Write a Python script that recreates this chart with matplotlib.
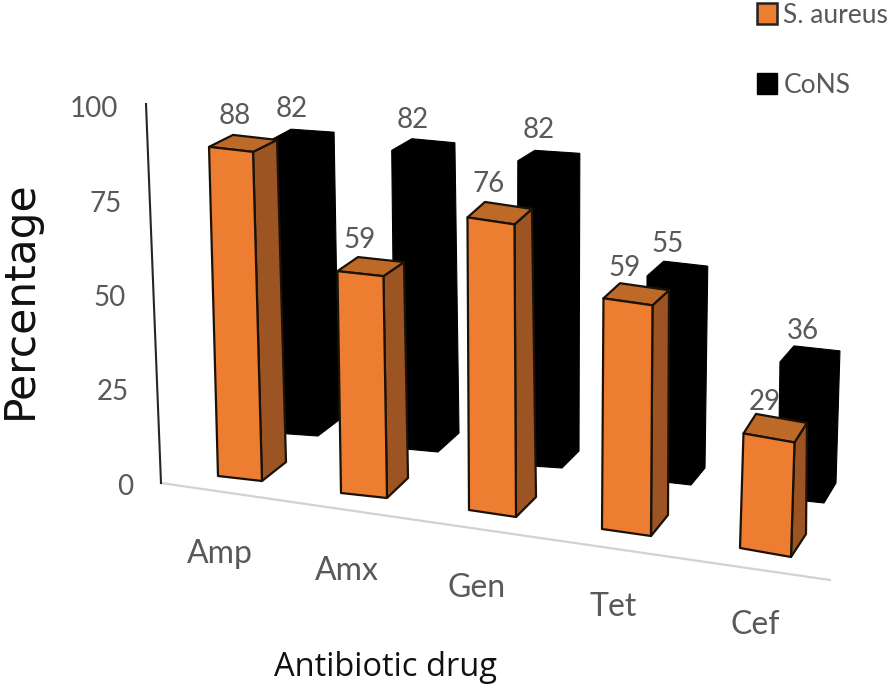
import matplotlib
matplotlib.use("Agg")
import matplotlib.pyplot as plt
from matplotlib.patches import Patch, Polygon
import numpy as np

# ---- data ----
categories = ["Amp", "Amx", "Gen", "Tet", "Cef"]
s_aureus = [88, 59, 76, 59, 29]
cons = [82, 82, 82, 55, 36]
y_ticks = [0, 25, 50, 75, 100]

# ---- oblique projection of the pseudo-3D scene (pixels) ----
# front-left base, front-right base, depth vector, rise per 100 units at front and at back
o_fl = [(218, 476), (341, 493), (469, 510), (602, 529), (740, 548)]
o_fr = [(262, 481), (387, 498), (516, 517), (651, 536), (791, 557)]
o_depth = [(24, -19), (21, -20), (20, -20), (17, -21), (15, -23)]
o_rise_f = [(-10.2, -374), (-6, -376), (-2, -385), (2.5, -391), (12, -395)]
o_rise_b = [(-10.2, -366), (-6.8, -366), (-5.3, -379), (1.7, -381), (3.4, -383)]

k_fl = [(275, 433), (395, 448), (517, 465), (647, 480), (778, 498)]
k_fr = [(318, 436), (438, 452), (562, 468), (691, 485), (824, 503)]
k_depth = [(21, -16), (21, -19), (17, -17), (14, -17), (12, -20)]
k_rise_f = [(-4, -358), (-4, -363), (1, -371), (0, -371), (5.5, -378)]
k_rise_b = [(-6, -351), (-5, -354), (1, -363), (5, -367), (11, -367)]

label_off_o = [(2, -19), (2, -17), (4, -18), (5, -15), (9, -12)]
label_off_k = [(1, -20), (1, -19), (4, -20), (4, -17), (9, -15)]

cat_label_xy = [(220, 554), (347, 571), (477, 588), (613, 607), (755, 625)]

ORANGE, TOP, SIDE = "#ED7D31", "#BD6A29", "#9C5522"
GREY = "#595959"
FONT = "Lato"

fig = plt.figure(figsize=(8.94, 6.89), dpi=100)
ax = fig.add_axes([0, 0, 1, 1])
ax.set_xlim(0, 894)
ax.set_ylim(689, 0)
ax.axis("off")


def corners(v, fl, fr, d, rf, rb):
    fl, fr, d, rf, rb = map(np.array, (fl, fr, d, rf, rb))
    t = v / 100.0
    return dict(flb=fl, frb=fr, rb=fr + d,
                flt=fl + rf * t, frt=fr + rf * t,
                blt=fl + d + rb * t, brt=fr + d + rb * t)


# axis lines
axis_bottom = np.array([161, 483])
axis_top = np.array([146, 104])
floor_end = np.array([830, 580])
ax.plot(*zip(axis_bottom, floor_end), color="#D2D2D2", lw=1.6, zorder=1)
ax.plot(*zip(axis_bottom, axis_top), color="#262626", lw=1.5, zorder=1)

# value axis tick labels
for t in y_ticks:
    x = 161 - 0.15 * t - 28
    y = 487 - 3.78 * t
    ax.text(x, y, str(t), ha="right", va="center", color=GREY, fontsize=20, family=FONT)

# value labels sit behind the bars
for i in range(5):
    c = corners(cons[i], k_fl[i], k_fr[i], k_depth[i], k_rise_f[i], k_rise_b[i])
    ax.text(c["blt"][0] + label_off_k[i][0], c["blt"][1] + label_off_k[i][1], str(cons[i]),
            ha="center", va="center", color=GREY, fontsize=20, family=FONT, zorder=2)
    c = corners(s_aureus[i], o_fl[i], o_fr[i], o_depth[i], o_rise_f[i], o_rise_b[i])
    ax.text(c["blt"][0] + label_off_o[i][0], c["blt"][1] + label_off_o[i][1], str(s_aureus[i]),
            ha="center", va="center", color=GREY, fontsize=20, family=FONT, zorder=2)

# CoNS: solid black silhouettes
for i in range(5):
    c = corners(cons[i], k_fl[i], k_fr[i], k_depth[i], k_rise_f[i], k_rise_b[i])
    ax.add_patch(Polygon([c["flb"], c["frb"], c["rb"], c["brt"], c["blt"], c["flt"]],
                         closed=True, fc="black", ec="black", lw=0.8, zorder=3))

# S. aureus: three shaded faces
for i in range(5):
    c = corners(s_aureus[i], o_fl[i], o_fr[i], o_depth[i], o_rise_f[i], o_rise_b[i])
    faces = [([c["frb"], c["rb"], c["brt"], c["frt"]], SIDE),
             ([c["flt"], c["frt"], c["brt"], c["blt"]], TOP),
             ([c["flb"], c["frb"], c["frt"], c["flt"]], ORANGE)]
    for pts, col in faces:
        ax.add_patch(Polygon(pts, closed=True, fc=col, ec="#1A1208", lw=1.6,
                             joinstyle="round", zorder=4))

# category labels
for name, (x, y) in zip(categories, cat_label_xy):
    ax.text(x, y, name, ha="center", va="center", color=GREY, fontsize=23, family=FONT)

# axis titles
ax.text(20, 300, "Percentage", rotation=90, ha="center", va="center",
        color="#111111", fontsize=30.5, family="DejaVu Sans")
ax.text(385, 667, "Antibiotic drug", ha="center", va="center",
        color="#111111", fontsize=23.5, family="Open Sans")

# legend
handles = [Patch(fc=ORANGE, ec="#222222", lw=1.8), Patch(fc="black", ec="black")]
ax.legend(handles, ["S. aureus", "CoNS"], loc="upper left", bbox_to_anchor=(757, 3),
          bbox_transform=ax.transData, frameon=False, labelcolor=GREY,
          handlelength=0.75, handleheight=0.85, handletextpad=0.25, labelspacing=1.7,
          borderpad=0, borderaxespad=0, prop={"family": FONT, "size": 19})

fig.savefig("out.png", dpi=100)
